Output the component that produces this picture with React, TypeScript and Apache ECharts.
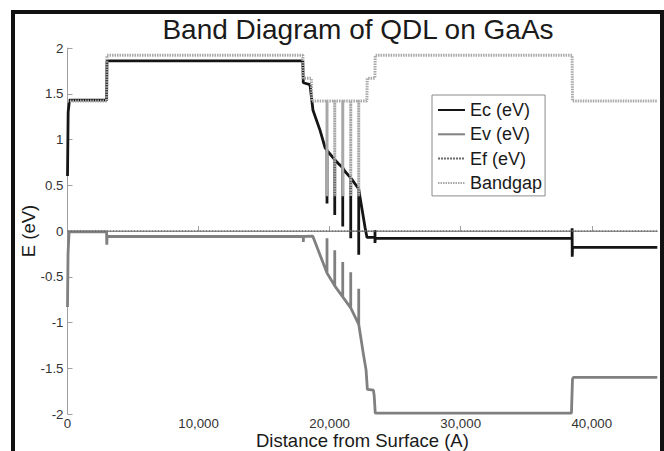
import React, { useEffect, useRef } from "react";
import * as echarts from "echarts";

// ---- Data (distance in Å, energy in eV) ----
const ecDistance = [0, 50, 150, 2980, 3010, 17950, 17990, 18500, 18730, 19270, 19650, 19800, 19800, 19800, 20390, 20390, 20390, 20640, 21000, 21000, 21000, 21175, 21610, 21610, 21610, 22170, 22220, 22220, 22220, 22320, 22700, 22850, 23460, 23460, 23460, 23480, 38500, 38500, 38510, 38530, 45000];
const ecEnergy = [0.6, 1.3, 1.43, 1.43, 1.86, 1.86, 1.62, 1.6, 1.32, 1.1, 0.91, 0.88, 0.3, 0.88, 0.78, 0.175, 0.78, 0.74, 0.69, 0.05, 0.69, 0.65, 0.58, -0.08, 0.58, 0.47, 0.46, -0.26, 0.46, 0.37, 0.04, -0.07, -0.07, 0.01, -0.13, -0.08, -0.08, 0.03, -0.28, -0.18, -0.18];

const evDistance = [0, 40, 120, 2980, 3000, 3020, 17990, 17990, 18010, 18710, 19800, 19800, 19800, 20390, 20390, 20390, 21000, 21000, 21000, 21610, 21610, 21610, 22220, 22220, 22220, 22570, 22780, 22880, 23340, 23400, 23480, 38450, 38490, 38530, 38600, 45000];
const evEnergy = [-0.83, -0.25, -0.01, -0.01, -0.15, -0.06, -0.06, -0.12, -0.06, -0.055, -0.46, -0.08, -0.46, -0.6, -0.21, -0.6, -0.72, -0.34, -0.72, -0.84, -0.45, -0.84, -1.02, -0.63, -1.02, -1.34, -1.52, -1.73, -1.74, -1.8, -1.99, -1.99, -1.8, -1.62, -1.6, -1.6];

const efDistance = [0, 45000];
const efEnergy = [0, 0];

const gapDistance = [0, 2990, 3010, 17960, 17990, 18600, 18640, 19800, 19800, 19800, 20390, 20390, 20390, 21000, 21000, 21000, 21610, 21610, 21610, 22220, 22220, 22220, 22840, 22870, 23450, 23480, 38500, 38530, 45000];
const gapEnergy = [1.42, 1.42, 1.92, 1.92, 1.67, 1.67, 1.42, 1.42, 0.38, 1.42, 1.42, 0.38, 1.42, 1.42, 0.38, 1.42, 1.42, 0.38, 1.42, 1.42, 0.38, 1.42, 1.42, 1.67, 1.67, 1.92, 1.92, 1.42, 1.42];

const seriesNames = ["Ec (eV)", "Ev (eV)", "Ef (eV)", "Bandgap"];
const xTicks = { min: 0, max: 45000, interval: 10000 };
const yTicks = { min: -2, max: 2, interval: 0.5 };

const zip = (xs: number[], ys: number[]) => xs.map((x, i) => [x, ys[i]]);

const FONT = "'Liberation Sans', Arial, sans-serif";

export default function App() {
  const ref = useRef<HTMLDivElement>(null);
  useEffect(() => {
    if (!ref.current) return;
    const chart = echarts.init(ref.current, undefined, { renderer: "svg" });
    const axisGray = "#a0a0a0";
    chart.setOption({
      animation: false,
      backgroundColor: "#ffffff",
      title: {
        text: "Band Diagram of QDL on GaAs",
        left: 353,
        textAlign: "center",
        top: 10,
        textStyle: { fontFamily: FONT, fontSize: 28, fontWeight: "normal", color: "#1a1a1a" },
      },
      legend: {
        orient: "vertical",
        left: 432,
        top: 95,
        data: seriesNames,
        itemWidth: 27,
        itemHeight: 14,
        itemGap: 4.3,
        padding: [5, 3, 3, 5],
        borderColor: "#8a8a8a",
        borderWidth: 1,
        backgroundColor: "#ffffff",
        itemStyle: { opacity: 0, color: "transparent", borderWidth: 0 },
        textStyle: { fontFamily: FONT, fontSize: 18, color: "#1a1a1a", lineHeight: 20 },
      },
      grid: { left: 67.5, right: 6.7, top: 48, bottom: 37, containLabel: false, outerBoundsMode: "none" },
      xAxis: {
        type: "value",
        min: xTicks.min,
        max: xTicks.max,
        interval: xTicks.interval,
        name: "Distance from Surface (A)",
        nameLocation: "middle",
        nameGap: 17,
        nameMoveOverlap: false,
        nameTextStyle: { fontFamily: FONT, fontSize: 18.5, color: "#1a1a1a" },
        axisLine: { show: true, lineStyle: { color: axisGray, width: 1 } },
        axisTick: { show: true, inside: true, length: 5, lineStyle: { color: axisGray } },
        axisLabel: {
          fontFamily: FONT,
          fontSize: 13.3,
          color: "#333",
          margin: 3,
          formatter: (v: number) => v.toLocaleString("en-US"),
          showMaxLabel: false,
        },
        splitLine: { show: false },
      },
      yAxis: {
        type: "value",
        min: yTicks.min,
        max: yTicks.max,
        interval: yTicks.interval,
        name: "E (eV)",
        nameLocation: "middle",
        nameGap: 30,
        nameMoveOverlap: false,
        nameTextStyle: { fontFamily: FONT, fontSize: 18.5, color: "#1a1a1a" },
        axisLine: { show: true, lineStyle: { color: axisGray, width: 1 } },
        axisTick: { show: true, inside: true, length: 5, lineStyle: { color: axisGray } },
        axisLabel: { fontFamily: FONT, fontSize: 13.3, color: "#333", margin: 4 },
        splitLine: { show: false },
      },
      series: [
        {
          name: seriesNames[0],
          type: "line",
          data: zip(ecDistance, ecEnergy),
          symbol: "none",
          lineStyle: { color: "#151515", width: 2.8 },
          itemStyle: { color: "#151515" },
        },
        {
          name: seriesNames[1],
          type: "line",
          data: zip(evDistance, evEnergy),
          symbol: "none",
          lineStyle: { color: "#808080", width: 2.8 },
          itemStyle: { color: "#808080" },
        },
        {
          name: seriesNames[2],
          type: "line",
          data: zip(efDistance, efEnergy),
          symbol: "none",
          lineStyle: { color: "#6a6a6a", width: 1.5, type: [2, 1] },
          itemStyle: { color: "#6a6a6a" },
        },
        {
          name: seriesNames[3],
          type: "line",
          data: zip(gapDistance, gapEnergy),
          symbol: "none",
          lineStyle: { color: "#a8a8a8", width: 3, type: [1.5, 1] },
          itemStyle: { color: "#a8a8a8" },
        },
      ],
      graphic: [
        { type: "rect", shape: { x: 11, y: 10, width: 4, height: 441 }, style: { fill: "#111" } },
        { type: "rect", shape: { x: 11, y: 10, width: 653, height: 4 }, style: { fill: "#111" } },
        { type: "rect", shape: { x: 660, y: 10, width: 4, height: 441 }, style: { fill: "#111" } },
      ],
    });
    return () => chart.dispose();
  }, []);
  return (
    <div
      ref={ref}
      style={{ position: "fixed", left: 0, top: 0, width: 664, height: 451, background: "#fff" }}
    />
  );
}
